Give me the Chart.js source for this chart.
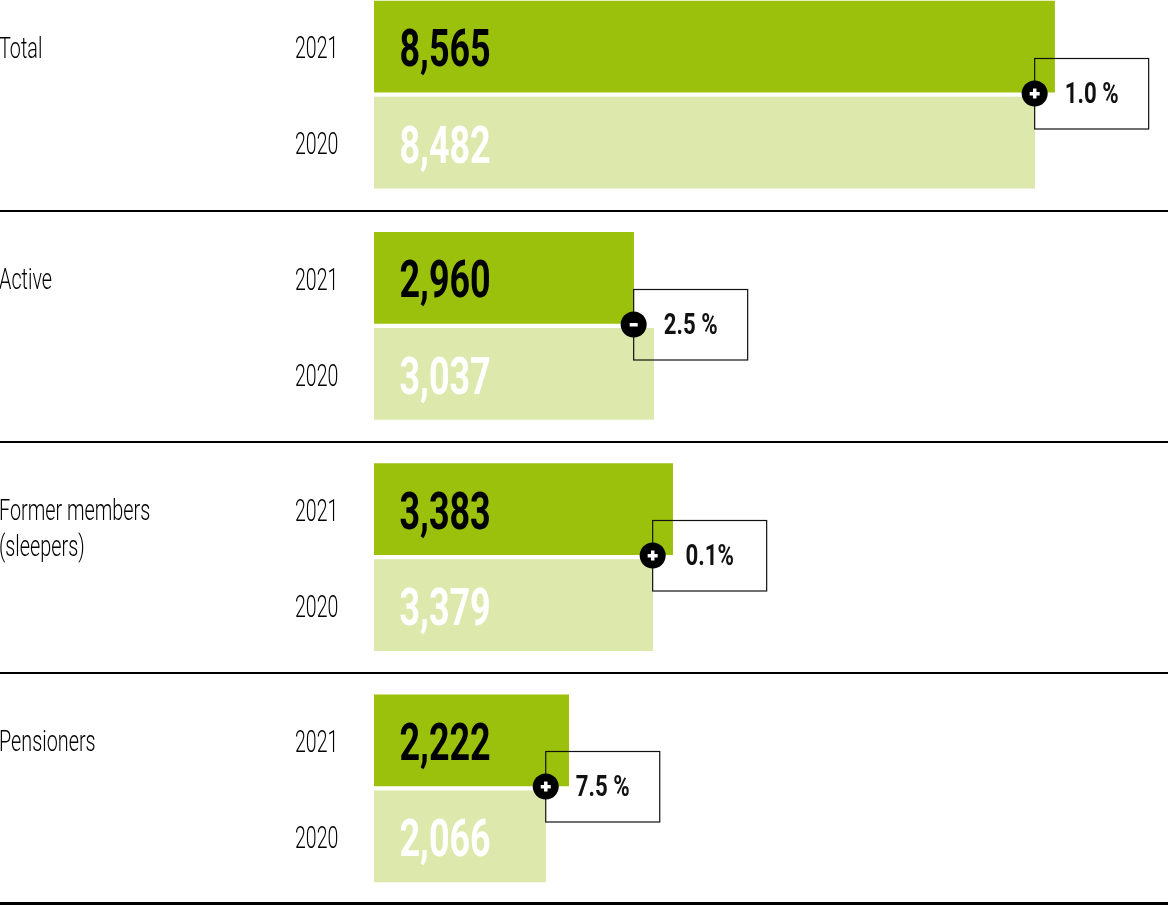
<!DOCTYPE html>
<html lang="en">
<head>
    <meta charset="UTF-8">
    <title>Members</title>
    <script src="https://cdn.jsdelivr.net/npm/chart.js"></script>
    <style>
        html, body { margin: 0; background: #fff; overflow: hidden; height: 906px; }
        #membersChart { position: absolute; left: 0; top: -21px; }
    </style>
</head>
<body>
    <canvas id="membersChart" width="1169" height="950"></canvas>

    <script>
        const categories = [['Total'], ['Active'], ['Former members', '(sleepers)'], ['Pensioners']];
        const years = ['2021', '2020'];

        // printed numbers
        const members2021 = ['8,565', '2,960', '3,383', '2,222'];
        const members2020 = ['8,482', '3,037', '3,379', '2,066'];

        // the original bars are not to scale with the printed numbers,
        // so these are the lengths, in axis units
        const barLength2021 = [8565, 3270, 3761, 2453];
        const barLength2020 = [8314, 3522, 3509, 2164];

        const changeSigns = ['+', '-', '+', '+'];
        const changeLabels = ['1.0 %', '2.5 %', '0.1%', '7.5 %'];

        const GREEN = '#9bc10d';
        const LIGHT_GREEN = '#dce8ac';

        // no condensed face is installed, so squeeze the text sideways
        function squeezedText(ctx, text, x, y, font, squeeze, color, align) {
            ctx.save();
            ctx.font = font;
            ctx.fillStyle = color;
            ctx.textBaseline = 'middle';
            ctx.textAlign = align || 'left';
            ctx.translate(x, y);
            ctx.scale(squeeze, 1);
            ctx.fillText(text, 0, 0);
            ctx.restore();
        }

        const annotations = {
            id: 'annotations',
            afterDatasetsDraw(chart) {
                const ctx = chart.ctx;
                const bars21 = chart.getDatasetMeta(0).data;
                const bars20 = chart.getDatasetMeta(1).data;
                const yScale = chart.scales.y;
                const step = yScale.getPixelForValue(1) - yScale.getPixelForValue(0);

                categories.forEach((lines, i) => {
                    const top = bars21[i], bottom = bars20[i];

                    // row separators
                    const ruleY = Math.floor(yScale.getPixelForValue(i) + step / 2);
                    const last = i === categories.length - 1;
                    ctx.fillStyle = '#000';
                    ctx.fillRect(0, last ? ruleY - 2 : ruleY, 1168, last ? 3 : 2);

                    // category name
                    lines.forEach((line, n) => {
                        squeezedText(ctx, line, -1, top.y + 3.5 + n * 36, '300 30px Roboto', 0.66, '#000');
                    });

                    // years
                    squeezedText(ctx, years[0], 295, top.y + 4, '300 31px Roboto', 0.63, '#000');
                    squeezedText(ctx, years[1], 295, bottom.y + 4, '300 31px Roboto', 0.63, '#000');

                    // printed values
                    squeezedText(ctx, members2021[i], 399.5, top.y + 6.5, '700 52px Roboto', 0.69, '#000');
                    squeezedText(ctx, members2020[i], 399.5, bottom.y + 7, '700 52px Roboto', 0.69, '#fff');

                    // change box, hangs off the shorter bar, centred on the bottom edge of the 2021 bar
                    const boxX = Math.min(top.x, bottom.x) - 0.3;
                    const midY = Math.round(top.y + top.height / 2);
                    ctx.strokeStyle = '#111';
                    ctx.lineWidth = 1.2;
                    ctx.strokeRect(boxX, midY - 34.5, 114, 70.5);

                    ctx.fillStyle = '#000';
                    ctx.beginPath();
                    ctx.arc(boxX, midY + 0.5, 13, 0, Math.PI * 2);
                    ctx.fill();
                    ctx.fillStyle = '#fff';
                    if (changeSigns[i] === '+') {
                        ctx.fillRect(boxX - 5, midY - 1, 10, 3.5);
                        ctx.fillRect(boxX - 1.7, midY - 4.5, 3.5, 10);
                    } else {
                        ctx.fillRect(boxX - 4, midY - 1, 8, 3.5);
                    }

                    squeezedText(ctx, changeLabels[i], boxX + 57, midY + 2.5, '700 30px Roboto', 0.74, '#111', 'center');
                });
            }
        };

        new Chart(document.getElementById('membersChart'), {
            type: 'bar',
            data: {
                labels: categories,
                datasets: [
                    { label: years[0], data: barLength2021, backgroundColor: GREEN },
                    { label: years[1], data: barLength2020, backgroundColor: LIGHT_GREEN }
                ]
            },
            options: {
                indexAxis: 'y',
                responsive: false,
                animation: false,
                categoryPercentage: 0.829,
                barPercentage: 0.958,
                layout: { padding: { left: 374, right: 0, top: 0, bottom: 25 } },
                plugins: { legend: { display: false }, tooltip: { enabled: false } },
                scales: {
                    x: { display: false, min: 0, max: 10000 },
                    y: { display: false }
                }
            },
            plugins: [annotations]
        });
    </script>
</body>
</html>
